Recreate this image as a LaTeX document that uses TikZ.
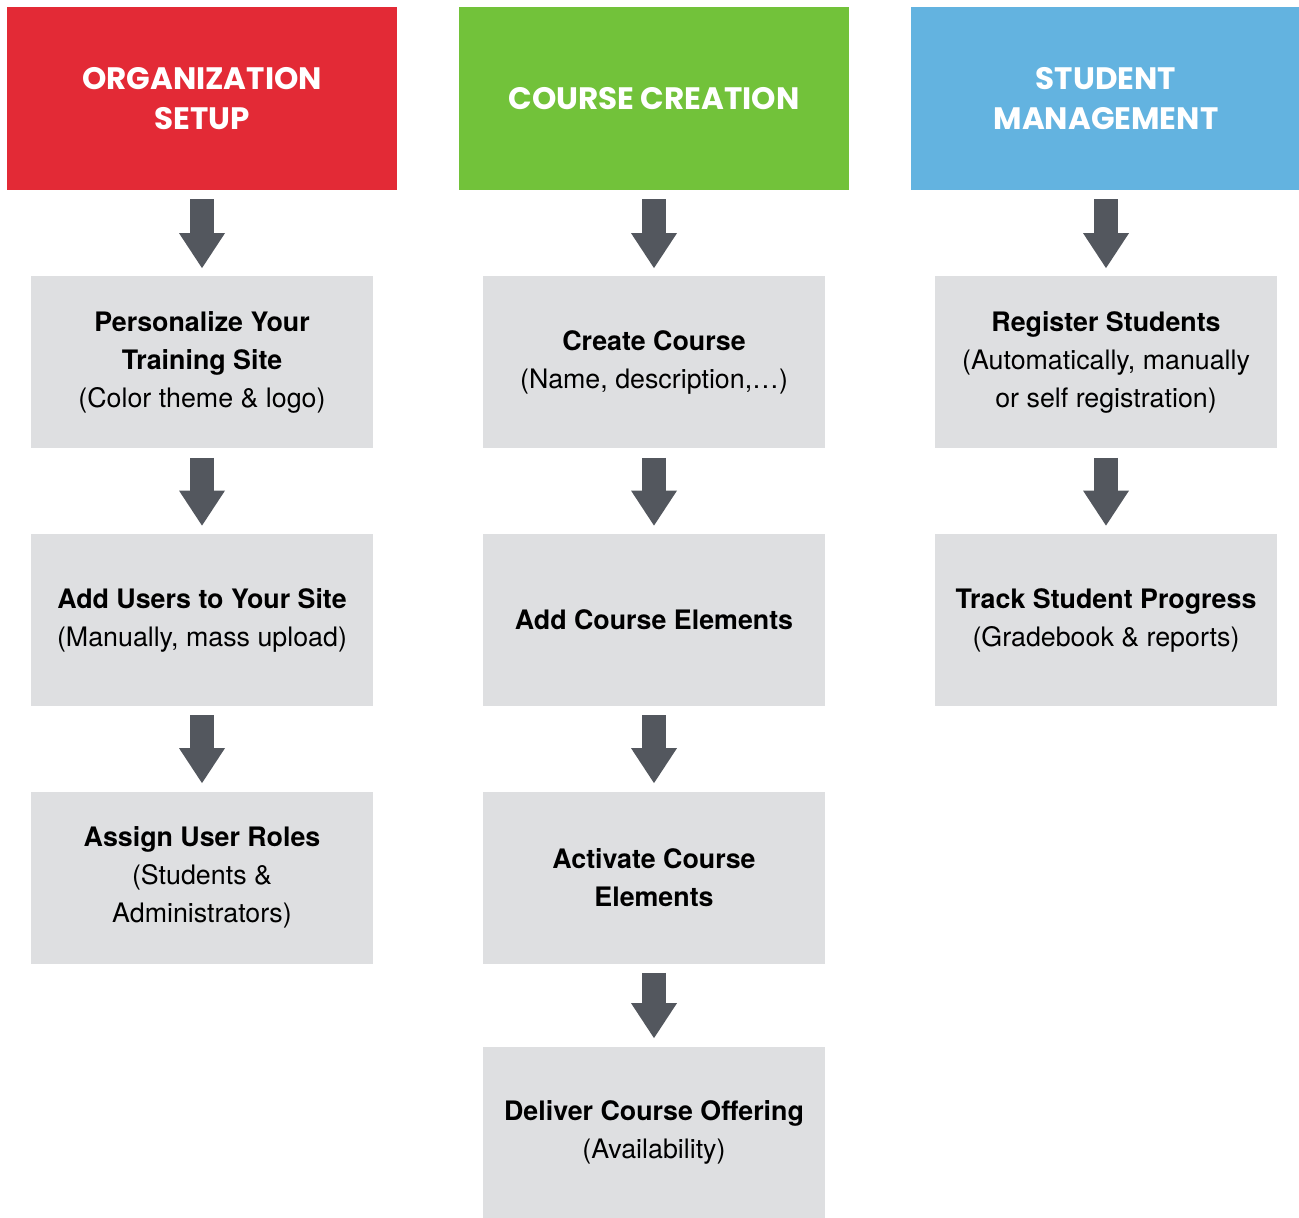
\documentclass[tikz,border=0pt]{standalone}
\usepackage{fontspec}
\setmainfont{TeX Gyre Heros}
\newfontfamily\headfont{Poppins}
\usetikzlibrary{arrows.meta}
\definecolor{orgred}{HTML}{E32A36}
\definecolor{coursegreen}{HTML}{72C23A}
\definecolor{studentblue}{HTML}{63B3E0}
\definecolor{boxgray}{HTML}{DEDFE1}
\definecolor{arrowgray}{HTML}{53575E}
\begin{document}
\begin{tikzpicture}[x=0.5pt,y=0.5pt,
  head/.style={minimum width=195pt,minimum height=91.5pt,inner sep=0pt,text=white,align=center,
    font=\headfont\bfseries\fontsize{15.5}{20}\selectfont},
  task/.style={fill=boxgray,minimum width=171pt,minimum height=86pt,inner sep=0pt,align=center,
    font=\fontsize{13.4}{19}\selectfont},
  flow/.style={draw=arrowgray,line width=12pt,-{Triangle[length=17.5pt,width=23pt,line width=0pt]},
    shorten <=4.5pt,shorten >=4pt}]
\useasboundingbox (0,0) rectangle (1299,-1218);
% column headers
\node[head,fill=orgred] (orghead) at (202,-98.5) {ORGANIZATION\\SETUP};
\node[head,fill=coursegreen] (coursehead) at (654,-98.5) {COURSE CREATION};
\node[head,fill=studentblue] (studenthead) at (1106,-98.5) {STUDENT\\MANAGEMENT};
% organization setup
\node[task] (personalize) at (202,-362.5) {\textbf{Personalize Your}\\\textbf{Training Site}\\(Color theme \& logo)};
\node[task] (addusers) at (202,-620) {\textbf{Add Users to Your Site}\\(Manually, mass upload)};
\node[task] (roles) at (202,-877.5) {\textbf{Assign User Roles}\\(Students \&\\Administrators)};
% course creation
\node[task] (create) at (654,-362.5) {\textbf{Create Course}\\(Name, description,\ldots)};
\node[task] (elements) at (654,-620) {\textbf{Add Course Elements}};
\node[task] (activate) at (654,-877.5) {\textbf{Activate Course}\\\textbf{Elements}};
\node[task] (deliver) at (654,-1132.5) {\textbf{Deliver Course Offering}\\(Availability)};
% student management
\node[task] (register) at (1106,-362.5) {\textbf{Register Students}\\(Automatically, manually\\or self registration)};
\node[task] (track) at (1106,-620) {\textbf{Track Student Progress}\\(Gradebook \& reports)};
% arrows
\draw[flow] (orghead) -- (personalize);
\draw[flow] (personalize) -- (addusers);
\draw[flow] (addusers) -- (roles);
\draw[flow] (coursehead) -- (create);
\draw[flow] (create) -- (elements);
\draw[flow] (elements) -- (activate);
\draw[flow] (activate) -- (deliver);
\draw[flow] (studenthead) -- (register);
\draw[flow] (register) -- (track);
\end{tikzpicture}
\end{document}
